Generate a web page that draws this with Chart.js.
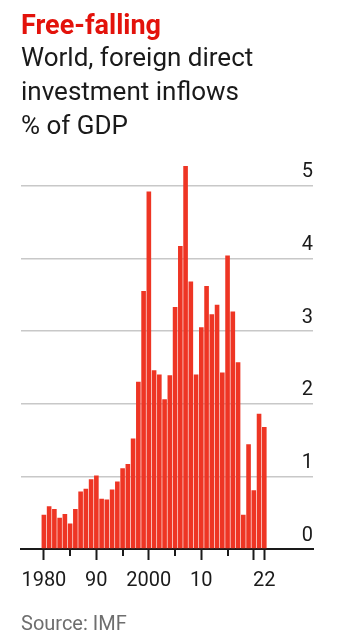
<!DOCTYPE html>
<html>
<head>
<meta charset="utf-8">
<script src="https://cdn.jsdelivr.net/npm/chart.js@4.4.1/dist/chart.umd.min.js"></script>
<style>
  html, body { margin: 0; padding: 0; background: #fff; }
  body { width: 337px; height: 642px; position: relative; overflow: hidden; font-family: Roboto, "Noto Sans", sans-serif; }
  #chart { position: absolute; left: 0; top: 0; }
  .title { position: absolute; left: 21px; top: 10px; font-size: 27px; line-height: 30px; font-weight: 700; color: #e3120b; white-space: nowrap; }
  .subtitle { position: absolute; left: 21px; top: 40px; font-size: 26px; line-height: 34px; color: #1a1a1a; white-space: nowrap; }
  .source { position: absolute; left: 21px; top: 611px; font-size: 20px; line-height: 24px; color: #6e6e6e; }
</style>
</head>
<body>
<canvas id="chart" width="337" height="642"></canvas>
<div class="title">Free-falling</div>
<div class="subtitle">World, foreign direct<br>investment inflows<br>% of GDP</div>
<div class="source">Source: IMF</div>
<script>
// World FDI inflows, % of GDP
const years = [
  1980, 1981, 1982, 1983, 1984, 1985, 1986, 1987, 1988, 1989,
  1990, 1991, 1992, 1993, 1994, 1995, 1996, 1997, 1998, 1999,
  2000, 2001, 2002, 2003, 2004, 2005, 2006, 2007, 2008, 2009,
  2010, 2011, 2012, 2013, 2014, 2015, 2016, 2017, 2018, 2019,
  2020, 2021, 2022,
];
const fdiInflows = [
  0.47, 0.59, 0.55, 0.43, 0.48, 0.35, 0.55, 0.79, 0.83, 0.96,
  1.01, 0.69, 0.68, 0.82, 0.93, 1.11, 1.17, 1.52, 2.30, 3.55,
  4.92, 2.46, 2.40, 2.06, 2.39, 3.33, 4.17, 5.27, 3.68, 2.40,
  3.05, 3.62, 3.23, 3.36, 2.43, 4.04, 3.27, 2.57, 0.47, 1.44,
  0.81, 1.86, 1.68,
];
const xTickValues = [1980, 1985, 1990, 1995, 2000, 2005, 2010, 2015, 2020, 2022];
const xTickLabels = ["1980", "", "90", "", "2000", "", "10", "", "", "22"];
const xMinorTicks = [1985, 1995, 2005, 2015];
const yTickValues = [0, 1, 2, 3, 4, 5];

const ink = "#1a1a1a";
const clear = "rgba(0,0,0,0)";

// shorter tick marks for the unlabelled five-year ticks
const minorTicks = {
  id: "minorTicks",
  afterDraw(chart) {
    const x = chart.scales.x;
    const ctx = chart.ctx;
    const y0 = chart.chartArea.bottom;
    ctx.save();
    ctx.strokeStyle = ink;
    ctx.lineWidth = 2;
    for (const v of xMinorTicks) {
      const px = Math.round(x.getPixelForValue(v));
      ctx.beginPath();
      ctx.moveTo(px, y0);
      ctx.lineTo(px, y0 + 7);
      ctx.stroke();
    }
    ctx.restore();
  },
};

new Chart(document.querySelector("#chart"), {
  type: "bar",
  data: {
    datasets: [{
      data: years.map((y, i) => ({x: y, y: fdiInflows[i]})),
      backgroundColor: "#ee3524",
      borderWidth: 0,
      barPercentage: 0.88,
      categoryPercentage: 1,
    }],
  },
  options: {
    responsive: false,
    devicePixelRatio: 1,
    animation: false,
    layout: {padding: {left: 21, right: 24, top: 156.6, bottom: 43}},
    plugins: {legend: {display: false}, tooltip: {enabled: false}},
    scales: {
      x: {
        type: "linear",
        offset: false,
        min: 1975.64,
        max: 2031.28,
        z: 1,
        afterFit(scale) { scale.height = 50; },
        afterBuildTicks(scale) { scale.ticks = xTickValues.map(v => ({value: v})); },
        border: {display: true, color: ink, width: 2},
        grid: {
          offset: false,
          drawOnChartArea: false,
          drawTicks: true,
          tickLength: 11,
          tickWidth: 2,
          tickColor: c => (c.tick && xMinorTicks.includes(c.tick.value)) ? clear : ink,
        },
        ticks: {
          autoSkip: false,
          maxRotation: 0,
          padding: 9,
          color: ink,
          font: {family: "Roboto", size: 20},
          callback: v => xTickLabels[xTickValues.indexOf(v)],
        },
      },
      y: {
        position: "right",
        min: 0,
        max: 5.4,
        afterFit(scale) { scale.width = 0; },
        afterBuildTicks(scale) { scale.ticks = yTickValues.map(v => ({value: v})); },
        border: {display: false},
        grid: {
          drawTicks: false,
          lineWidth: 1.5,
          color: c => (!c.tick || c.tick.value === 0) ? clear : "#c8c8c8",
        },
        ticks: {
          mirror: true,
          padding: 0,
          labelOffset: -13.5,
          color: ink,
          font: {family: "Roboto", size: 20},
        },
      },
    },
  },
  plugins: [minorTicks],
});
</script>
</body>
</html>
